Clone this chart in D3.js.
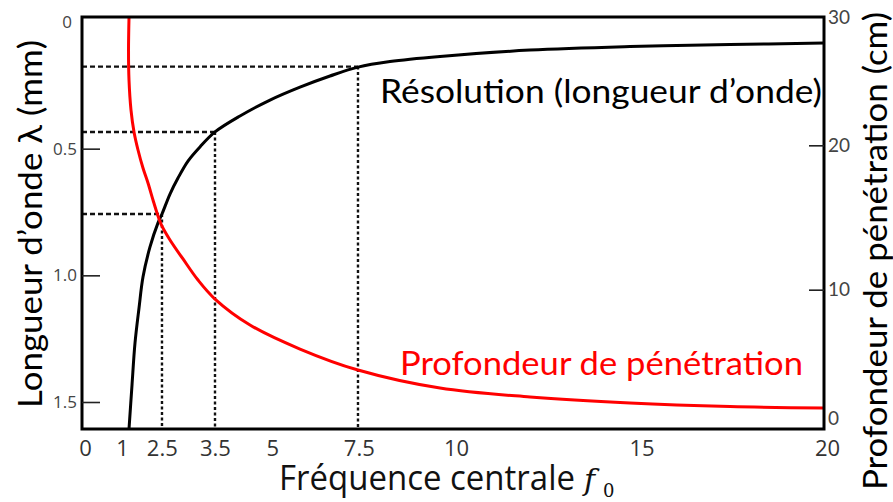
<!DOCTYPE html>
<html>
<head>
<meta charset="utf-8">
<script src="https://cdnjs.cloudflare.com/ajax/libs/d3/7.8.5/d3.min.js"></script>
<style>
  body { margin: 0; background: #fff; }
  svg { display: block; }
</style>
</head>
<body>
<div id="chart"></div>
<script>
// centre frequency (MHz)
var resFreq = [1.186, 1.267, 1.348, 1.456, 1.563, 1.752, 1.968, 2.075, 2.291, 2.507, 2.776, 3.1, 3.504,
               4.178, 4.987, 5.795, 6.604, 7.358, 8.221, 9.569, 11.995, 14.69, 17.385, 19.95];
// wavelength (mm), left axis
var resLambda = [1.607, 1.433, 1.267, 1.129, 1.007, 0.888, 0.793, 0.758, 0.679, 0.616, 0.549, 0.493, 0.434,
                 0.371, 0.308, 0.257, 0.213, 0.178, 0.156, 0.136, 0.111, 0.097, 0.089, 0.083];

var penFreq = [1.19, 1.173, 1.186, 1.24, 1.321, 1.429, 1.563, 1.698, 1.833, 1.941, 2.049, 2.291, 2.642,
               3.046, 3.504, 4.447, 5.795, 7.358, 9.569, 11.995, 14.69, 17.385, 19.95];
// penetration depth (cm), right axis
var penDepth = [30.4, 27.53, 25.29, 23.04, 21.4, 20.05, 18.7, 17.58, 16.31, 15.34, 14.51, 13.32, 11.9,
                10.32, 8.9, 6.96, 5.16, 3.59, 2.24, 1.57, 1.12, 0.86, 0.75];

// dashed guide points on the resolution curve
var guideFreq = [2.075, 3.504, 7.358];
var guideLambda = [0.758, 0.434, 0.176];

var xTickVals = [0, 1, 2.07, 3.5, 5.05, 7.38, 10, 15, 20];
var xTickLabels = ["0", "1", "2.5", "3.5", "5", "7.5", "10", "15", "20"];
var leftTickVals = [0, 0.5, 1.0, 1.5];
var leftTickLabels = ["0", "0.5", "1.0", "1.5"];
var rightTickVals = [0, 9.6, 20.4, 30];
var rightTickLabels = ["0", "10", "20", "30"];

var width = 893, height = 502;
var plot = {left: 82, right: 824, top: 17, bottom: 429};

var svg = d3.select("#chart").append("svg")
    .attr("width", width)
    .attr("height", height);

var x = d3.scaleLinear().domain([0, 20]).range([85, 827]);
var yL = d3.scaleLinear().domain([0, 1.5]).range([22, 402]);
var yR = d3.scaleLinear().domain([0, 30]).range([418, 17]);

svg.append("clipPath").attr("id", "clip")
    .append("rect")
    .attr("x", plot.left).attr("y", plot.top)
    .attr("width", plot.right - plot.left)
    .attr("height", plot.bottom - plot.top);

// guides
var guides = guideFreq.map(function(f, i){ return {f: f, l: guideLambda[i]}; });
svg.append("g").selectAll("line")
    .data(guides).enter().append("line")
    .attr("x1", plot.left).attr("x2", function(d){ return x(d.f); })
    .attr("y1", function(d){ return yL(d.l); }).attr("y2", function(d){ return yL(d.l); })
    .attr("stroke", "#111").attr("stroke-width", 2.4)
    .attr("stroke-dasharray", "5,3");
svg.append("g").selectAll("line")
    .data(guides).enter().append("line")
    .attr("x1", function(d){ return x(d.f); }).attr("x2", function(d){ return x(d.f); })
    .attr("y1", function(d){ return yL(d.l); }).attr("y2", plot.bottom)
    .attr("stroke", "#111").attr("stroke-width", 2.4)
    .attr("stroke-dasharray", "3,2.5");

var g = svg.append("g").attr("clip-path", "url(#clip)");

var resLine = d3.line()
    .x(function(d){ return x(d[0]); })
    .y(function(d){ return yL(d[1]); })
    .curve(d3.curveCatmullRom);
g.append("path")
    .datum(resFreq.map(function(f, i){ return [f, resLambda[i]]; }))
    .attr("d", resLine)
    .attr("fill", "none")
    .attr("stroke", "#000")
    .attr("stroke-width", 3);

var penLine = d3.line()
    .x(function(d){ return x(d[0]); })
    .y(function(d){ return yR(d[1]); })
    .curve(d3.curveCatmullRom);
g.append("path")
    .datum(penFreq.map(function(f, i){ return [f, penDepth[i]]; }))
    .attr("d", penLine)
    .attr("fill", "none")
    .attr("stroke", "#ff0000")
    .attr("stroke-width", 3);

// frame
svg.append("rect")
    .attr("x", plot.left).attr("y", plot.top)
    .attr("width", plot.right - plot.left)
    .attr("height", plot.bottom - plot.top)
    .attr("fill", "none")
    .attr("stroke", "#000")
    .attr("stroke-width", 3);

// axes
var xAxis = svg.append("g")
    .attr("transform", "translate(0," + plot.bottom + ")")
    .call(d3.axisBottom(x).tickValues(xTickVals).tickSize(0).tickPadding(11)
        .tickFormat(function(d, i){ return xTickLabels[i]; }));
xAxis.select(".domain").remove();
xAxis.selectAll("text")
    .attr("font-family", "'Open Sans', sans-serif")
    .attr("font-size", 22)
    .attr("fill", "#333");

var leftAxis = svg.append("g")
    .attr("transform", "translate(" + plot.left + ",0)")
    .call(d3.axisLeft(yL).tickValues(leftTickVals).tickSize(-18).tickPadding(5)
        .tickFormat(function(d, i){ return leftTickLabels[i]; }));
leftAxis.select(".domain").remove();
leftAxis.selectAll("line").attr("stroke", "#222").attr("stroke-width", 1.6)
    .filter(function(d){ return d === 0; }).remove();
leftAxis.selectAll("text")
    .attr("font-family", "'Open Sans', sans-serif")
    .attr("font-size", 17)
    .attr("fill", "#444")
    .attr("dx", function(d){ return d === 0 ? -5 : 0; });

var rightAxis = svg.append("g")
    .attr("transform", "translate(" + plot.right + ",0)")
    .call(d3.axisRight(yR).tickValues(rightTickVals).tickSize(-15).tickPadding(4)
        .tickFormat(function(d, i){ return rightTickLabels[i]; }));
rightAxis.select(".domain").remove();
rightAxis.selectAll("line").attr("stroke", "#222").attr("stroke-width", 1.6)
    .filter(function(d){ return d === 0 || d === 30; }).remove();
rightAxis.selectAll("text")
    .attr("font-family", "Lato, sans-serif")
    .attr("font-size", 19)
    .attr("fill", "#444");

// titles
svg.append("text")
    .attr("x", 380).attr("y", 103)
    .attr("font-family", "Lato, sans-serif")
    .attr("font-size", 32)
    .attr("textLength", 442).attr("lengthAdjust", "spacingAndGlyphs")
    .attr("fill", "#000")
    .text("Résolution (longueur d’onde)");

svg.append("text")
    .attr("x", 400).attr("y", 375)
    .attr("font-family", "Lato, sans-serif")
    .attr("font-size", 32)
    .attr("textLength", 403).attr("lengthAdjust", "spacingAndGlyphs")
    .attr("fill", "#ff0000")
    .text("Profondeur de pénétration");

svg.append("text")
    .attr("transform", "translate(42,224) rotate(-90)")
    .attr("text-anchor", "middle")
    .attr("font-family", "Lato, sans-serif")
    .attr("font-size", 32)
    .attr("textLength", 368).attr("lengthAdjust", "spacingAndGlyphs")
    .attr("fill", "#000")
    .text("Longueur d’onde λ (mm)");

svg.append("text")
    .attr("transform", "translate(887,251) rotate(-90)")
    .attr("text-anchor", "middle")
    .attr("font-family", "Lato, sans-serif")
    .attr("font-size", 32)
    .attr("textLength", 478).attr("lengthAdjust", "spacingAndGlyphs")
    .attr("fill", "#000")
    .text("Profondeur de pénétration (cm)");

svg.append("text")
    .attr("x", 279).attr("y", 490)
    .attr("font-family", "'Open Sans', sans-serif")
    .attr("font-size", 34)
    .attr("textLength", 296).attr("lengthAdjust", "spacingAndGlyphs")
    .attr("fill", "#111")
    .text("Fréquence centrale");
svg.append("text")
    .attr("x", 584).attr("y", 490)
    .attr("font-family", "'DejaVu Serif', serif")
    .attr("font-style", "italic")
    .attr("font-size", 30)
    .attr("fill", "#111")
    .text("f");
svg.append("text")
    .attr("x", 603).attr("y", 497)
    .attr("font-family", "'DejaVu Serif', serif")
    .attr("font-size", 18)
    .attr("fill", "#111")
    .text("0");
</script>
</body>
</html>
